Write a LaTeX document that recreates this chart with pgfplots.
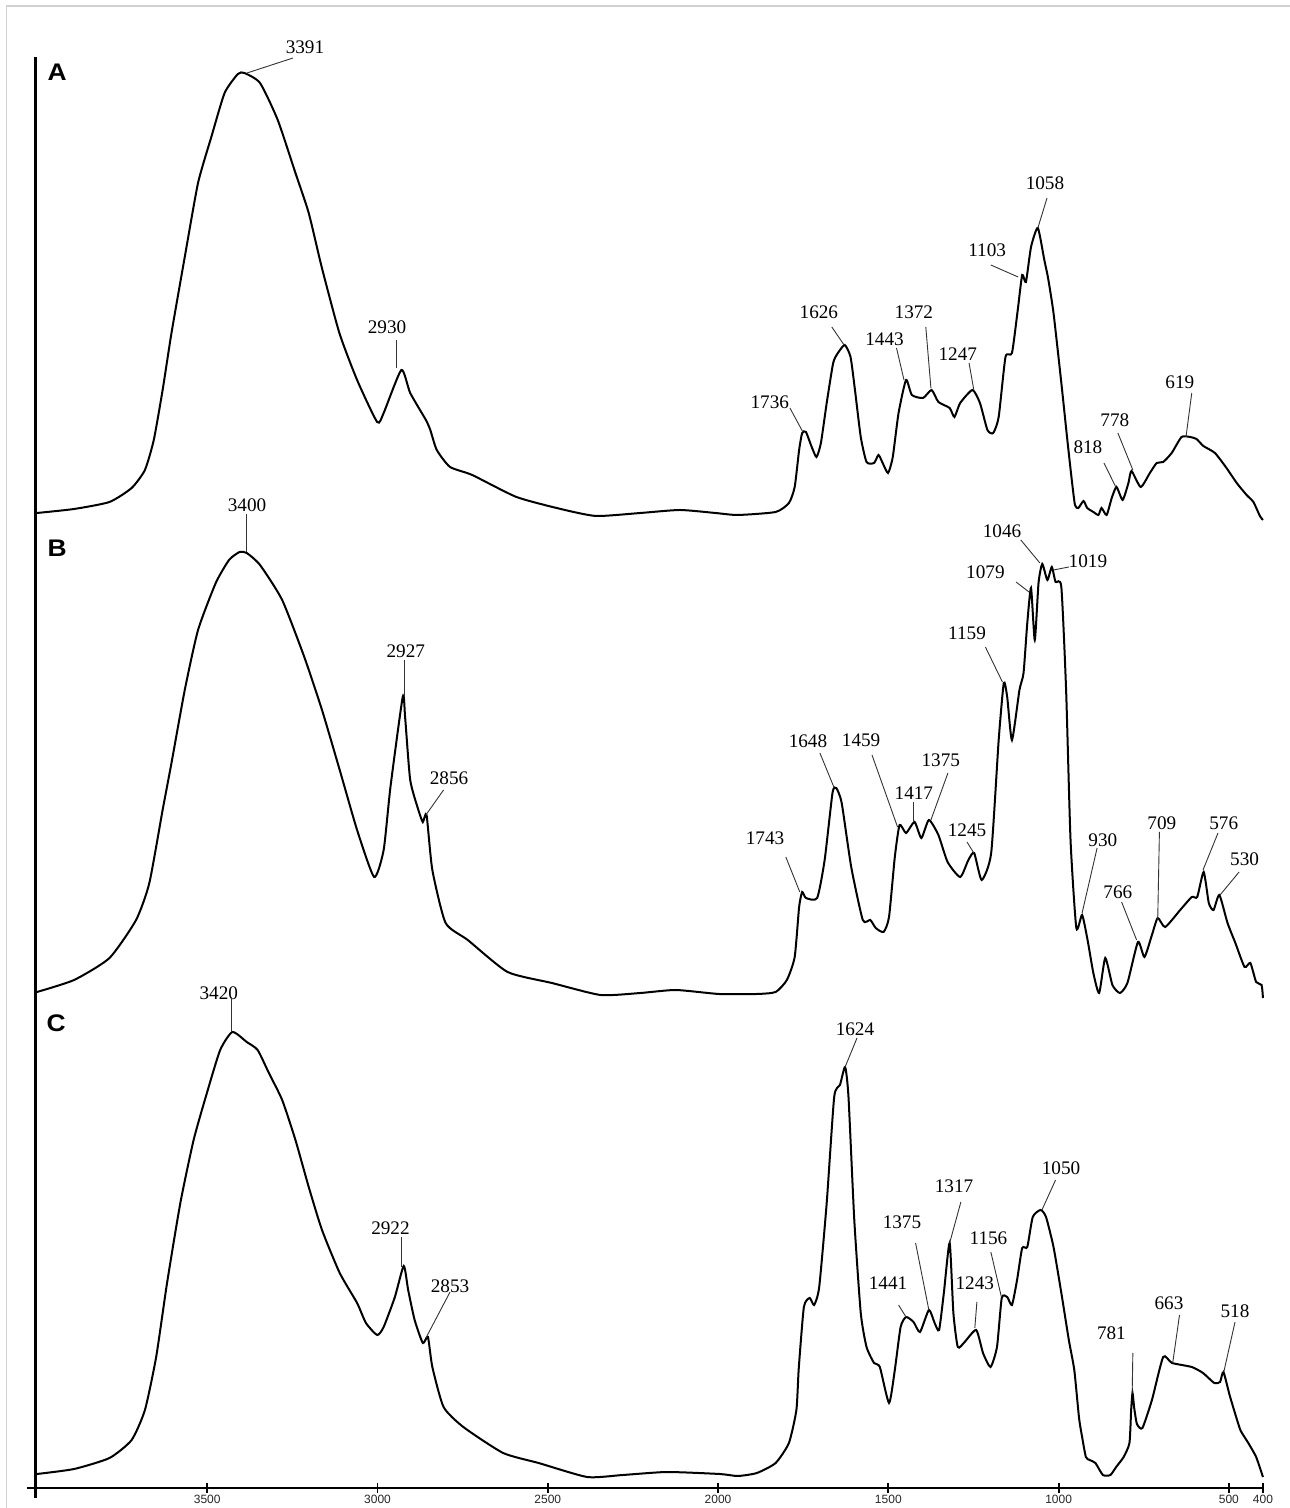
\documentclass[border=0pt]{standalone}
\usepackage{fontspec}
\setmainfont{Liberation Serif}
\setsansfont{Liberation Sans}
\usepackage{pgfplots}
\pgfplotsset{compat=1.18}

\tikzset{
  peak/.style={font=\fontsize{9.6}{10}\selectfont, inner sep=0pt},
  lead/.style={black!80, line width=0.45pt},
  panel/.style={font=\sffamily\bfseries\fontsize{12}{12}\selectfont, inner sep=0pt, xscale=1.1},
}

\pgfplotstableread[row sep=\\]{
wn y\\
4000 975\\ 3891 979\\ 3787 986\\ 3722 1000\\ 3683 1018\\ 3657 1048\\ 3631 1098\\ 3605 1155\\
3566 1231\\ 3527 1305\\ 3488 1351\\ 3449 1395\\ 3410 1414\\ 3391 1415\\ 3345 1405\\ 3293 1368\\
3241 1315\\ 3202 1275\\ 3164 1221\\ 3112 1155\\ 3060 1108\\ 3001 1066\\ 2982 1075\\ 2930 1118\\
2904 1095\\ 2858 1068\\ 2845 1058\\ 2826 1038\\ 2787 1021\\ 2722 1013\\ 2592 991\\ 2462 979\\
2358 972\\ 2228 975\\ 2112 978\\ 2008 975\\ 1942 973\\ 1831 976\\ 1792 985\\ 1775 1001\\
1762 1038\\ 1753 1055\\ 1742 1056\\ 1725 1041\\ 1711 1031\\ 1698 1045\\ 1681 1085\\ 1662 1125\\
1648 1135\\ 1628 1143\\ 1611 1131\\ 1598 1098\\ 1581 1051\\ 1564 1026\\ 1542 1025\\ 1529 1033\\
1518 1026\\ 1501 1015\\ 1487 1031\\ 1470 1075\\ 1448 1108\\ 1431 1093\\ 1398 1090\\ 1373 1098\\
1353 1086\\ 1320 1080\\ 1306 1071\\ 1289 1085\\ 1253 1098\\ 1231 1085\\ 1209 1058\\ 1192 1055\\
1176 1071\\ 1156 1131\\ 1137 1135\\ 1120 1178\\ 1107 1213\\ 1096 1206\\ 1081 1241\\ 1061 1260\\
1042 1228\\ 1031 1210\\ 1015 1175\\ 992 1105\\ 975 1050\\ 962 1010\\ 952 983\\ 942 980\\
927 987\\ 916 980\\ 898 976\\ 883 973\\ 874 980\\ 859 973\\ 844 990\\ 830 1001\\ 812 988\\
795 1005\\ 786 1017\\ 759 1001\\ 732 1015\\ 712 1025\\ 693 1026\\ 668 1035\\ 639 1051\\
614 1051\\ 595 1049\\ 575 1042\\ 541 1035\\ 507 1020\\ 477 1005\\ 448 993\\ 428 986\\
409 972\\ 400 968\\
}\specA

\pgfplotstableread[row sep=\\]{
wn y\\
4000 496\\ 3891 508\\ 3787 530\\ 3709 568\\ 3670 605\\ 3631 678\\ 3605 725\\ 3566 798\\
3527 858\\ 3475 905\\ 3436 928\\ 3405 936\\ 3384 935\\ 3345 923\\ 3280 888\\ 3215 831\\
3163 778\\ 3111 718\\ 3060 658\\ 3010 611\\ 2982 638\\ 2962 701\\ 2926 791\\ 2919 771\\
2904 708\\ 2880 678\\ 2867 666\\ 2856 673\\ 2839 618\\ 2800 565\\ 2735 548\\ 2618 516\\
2488 505\\ 2345 493\\ 2228 495\\ 2124 498\\ 1997 494\\ 1886 494\\ 1831 496\\ 1798 508\\
1775 531\\ 1762 581\\ 1753 596\\ 1742 590\\ 1709 590\\ 1687 628\\ 1664 695\\ 1653 700\\
1637 685\\ 1609 621\\ 1575 568\\ 1553 568\\ 1537 560\\ 1514 556\\ 1498 571\\ 1481 631\\
1467 663\\ 1448 655\\ 1423 666\\ 1403 650\\ 1381 668\\ 1353 653\\ 1326 626\\ 1289 611\\
1265 628\\ 1248 635\\ 1226 608\\ 1198 635\\ 1176 748\\ 1161 805\\ 1151 791\\ 1137 748\\
1115 798\\ 1103 815\\ 1092 865\\ 1081 900\\ 1070 848\\ 1059 905\\ 1048 924\\ 1033 908\\
1020 921\\ 1009 906\\ 992 901\\ 978 798\\ 965 648\\ 948 560\\ 931 573\\ 915 548\\
898 515\\ 881 495\\ 863 530\\ 842 503\\ 820 495\\ 798 505\\ 767 546\\ 748 531\\
726 553\\ 709 570\\ 687 561\\ 643 578\\ 609 591\\ 593 591\\ 574 616\\ 559 585\\
545 578\\ 528 593\\ 504 565\\ 481 545\\ 454 521\\ 437 525\\ 420 506\\ 404 503\\ 400 490\\
}\specB

\pgfplotstableread[row sep=\\]{
wn y\\
4000 14\\ 3891 19\\ 3787 30\\ 3722 48\\ 3683 78\\ 3650 131\\ 3618 205\\ 3579 285\\
3540 348\\ 3501 395\\ 3462 438\\ 3426 456\\ 3384 446\\ 3352 438\\ 3319 415\\ 3280 388\\
3241 348\\ 3202 301\\ 3163 258\\ 3111 215\\ 3060 185\\ 3034 165\\ 3001 153\\ 2982 161\\
2949 191\\ 2923 222\\ 2910 198\\ 2891 168\\ 2867 145\\ 2852 151\\ 2839 121\\ 2806 81\\
2748 61\\ 2631 35\\ 2527 25\\ 2384 11\\ 2280 13\\ 2150 16\\ 1995 14\\ 1942 12\\
1886 15\\ 1831 25\\ 1792 45\\ 1770 78\\ 1763 120\\ 1748 181\\ 1731 190\\ 1718 183\\
1703 201\\ 1681 285\\ 1659 391\\ 1642 403\\ 1627 421\\ 1617 391\\ 1600 268\\ 1581 175\\
1564 141\\ 1542 125\\ 1525 121\\ 1498 85\\ 1481 118\\ 1464 161\\ 1448 171\\ 1426 166\\
1407 156\\ 1381 178\\ 1364 165\\ 1351 158\\ 1337 195\\ 1320 245\\ 1309 175\\ 1296 141\\
1276 146\\ 1242 158\\ 1222 135\\ 1200 121\\ 1181 141\\ 1167 190\\ 1151 191\\ 1137 183\\
1122 208\\ 1107 240\\ 1092 241\\ 1076 271\\ 1053 278\\ 1037 271\\ 1015 241\\ 992 195\\
970 148\\ 954 118\\ 940 70\\ 931 51\\ 920 31\\ 909 28\\ 892 25\\ 870 13\\
848 13\\ 831 21\\ 809 31\\ 792 45\\ 787 78\\ 783 95\\ 778 80\\ 770 64\\
754 60\\ 726 88\\ 693 131\\ 667 125\\ 609 121\\ 576 115\\ 543 105\\ 526 106\\
516 116\\ 498 93\\ 476 68\\ 465 57\\ 443 45\\ 420 31\\ 400 11\\
}\specC

\begin{document}
\begin{tikzpicture}
\begin{axis}[
  scale only axis,
  width=617.75pt, height=715.5pt,
  xmin=400, xmax=4028, ymin=0, ymax=1431,
  x dir=reverse,
  clip=false,
  axis y line=none,
  axis x line=bottom,
  x axis line style={-, line width=1.3pt},
  xtick={400,500,1000,1500,2000,2500,3000,3500},
  ytick=\empty,
  xtick align=center,
  major tick length=5pt,
  every tick/.style={black, line width=0.9pt},
  /pgf/number format/1000 sep={},
  /pgf/number format/assume math mode=true,
  x tick label style={font=\sffamily\fontsize{6}{6}\selectfont, text=black!85, yshift=2.6pt},
]
% frame of the figure
\draw[black!18, line width=0.6pt] (axis cs:4089.6,-20) -- (axis cs:4089.6,1482) -- (axis cs:320.6,1482);
% vertical axis line
\draw[line width=1.5pt] (axis cs:4003,-10) -- (axis cs:4003,1431);

\addplot[black, line width=1pt, mark=none, smooth, tension=0.35] table[x=wn, y=y] {\specA};
\addplot[black, line width=1pt, mark=none, smooth, tension=0.35] table[x=wn, y=y] {\specB};
\addplot[black, line width=1pt, mark=none, smooth, tension=0.35] table[x=wn, y=y] {\specC};

% panel letters
\node[panel] at (axis cs:3941,1416) {A};
\node[panel] at (axis cs:3941,940) {B};
\node[panel] at (axis cs:3944,465) {C};

% ---- A annotations
\node[peak] at (axis cs:3213,1441) {3391};
\draw[lead] (axis cs:3248,1430) -- (axis cs:3383,1415);
\node[peak] at (axis cs:2972,1161) {2930};
\draw[lead] (axis cs:2943,1148) -- (axis cs:2943,1120);
\node[peak] at (axis cs:1848,1086) {1736};
\draw[lead] (axis cs:1789,1080) -- (axis cs:1751,1056);
\node[peak] at (axis cs:1704,1176) {1626};
\draw[lead] (axis cs:1666,1161) -- (axis cs:1630,1143);
\node[peak] at (axis cs:1511,1149) {1443};
\draw[lead] (axis cs:1476,1140) -- (axis cs:1454,1108);
\node[peak] at (axis cs:1425,1176) {1372};
\draw[lead] (axis cs:1390,1161) -- (axis cs:1375,1100);
\node[peak] at (axis cs:1296,1134) {1247};
\draw[lead] (axis cs:1263,1125) -- (axis cs:1249,1098);
\node[peak] at (axis cs:1210,1238) {1103};
\draw[lead] (axis cs:1199,1223) -- (axis cs:1119,1211);
\node[peak] at (axis cs:1040,1305) {1058};
\draw[lead] (axis cs:1034,1290) -- (axis cs:1061,1260);
\node[peak] at (axis cs:914,1041) {818};
\draw[lead] (axis cs:867,1025) -- (axis cs:832,1001);
\node[peak] at (axis cs:835,1068) {778};
\draw[lead] (axis cs:826,1055) -- (axis cs:782,1018);
\node[peak] at (axis cs:644,1106) {619};
\draw[lead] (axis cs:609,1095) -- (axis cs:626,1051);

% ---- B annotations
\node[peak] at (axis cs:3383,983) {3400};
\draw[lead] (axis cs:3386,974) -- (axis cs:3386,936);
\node[peak] at (axis cs:2917,837) {2927};
\draw[lead] (axis cs:2922,828) -- (axis cs:2922,791);
\node[peak] at (axis cs:2790,710) {2856};
\draw[lead] (axis cs:2806,698) -- (axis cs:2858,673);
\node[peak] at (axis cs:1862,650) {1743};
\draw[lead] (axis cs:1801,631) -- (axis cs:1760,596);
\node[peak] at (axis cs:1736,747) {1648};
\draw[lead] (axis cs:1701,735) -- (axis cs:1660,701);
\node[peak] at (axis cs:1580,748) {1459};
\draw[lead] (axis cs:1548,733) -- (axis cs:1473,661);
\node[peak] at (axis cs:1425,695) {1417};
\draw[lead] (axis cs:1425,686) -- (axis cs:1425,666);
\node[peak] at (axis cs:1346,728) {1375};
\draw[lead] (axis cs:1325,715) -- (axis cs:1375,668);
\node[peak] at (axis cs:1269,658) {1245};
\draw[lead] (axis cs:1269,646) -- (axis cs:1249,635);
\node[peak] at (axis cs:1269,855) {1159};
\draw[lead] (axis cs:1215,841) -- (axis cs:1165,806);
\node[peak] at (axis cs:1215,916) {1079};
\draw[lead] (axis cs:1125,906) -- (axis cs:1087,896);
\node[peak] at (axis cs:1166,957) {1046};
\draw[lead] (axis cs:1111,948) -- (axis cs:1055,925);
\node[peak] at (axis cs:914,927) {1019};
\draw[lead] (axis cs:970,921) -- (axis cs:1015,918);
\node[peak] at (axis cs:870,648) {930};
\draw[lead] (axis cs:887,640) -- (axis cs:931,575);
\node[peak] at (axis cs:826,596) {766};
\draw[lead] (axis cs:815,586) -- (axis cs:771,548);
\node[peak] at (axis cs:697,665) {709};
\draw[lead] (axis cs:704,656) -- (axis cs:709,568);
\node[peak] at (axis cs:515,665) {576};
\draw[lead] (axis cs:532,655) -- (axis cs:576,618);
\node[peak] at (axis cs:454,629) {530};
\draw[lead] (axis cs:470,616) -- (axis cs:526,593);

% ---- C annotations
\node[peak] at (axis cs:3466,495) {3420};
\draw[lead] (axis cs:3430,491) -- (axis cs:3430,456);
\node[peak] at (axis cs:2962,260) {2922};
\draw[lead] (axis cs:2930,251) -- (axis cs:2930,221);
\node[peak] at (axis cs:2787,202) {2853};
\draw[lead] (axis cs:2787,196) -- (axis cs:2858,150);
\node[peak] at (axis cs:1598,459) {1624};
\draw[lead] (axis cs:1592,450) -- (axis cs:1627,421);
\node[peak] at (axis cs:1501,205) {1441};
\draw[lead] (axis cs:1470,183) -- (axis cs:1448,171);
\node[peak] at (axis cs:1460,266) {1375};
\draw[lead] (axis cs:1420,245) -- (axis cs:1381,178);
\node[peak] at (axis cs:1307,302) {1317};
\draw[lead] (axis cs:1287,286) -- (axis cs:1320,245);
\node[peak] at (axis cs:1246,205) {1243};
\draw[lead] (axis cs:1240,186) -- (axis cs:1246,160);
\node[peak] at (axis cs:1206,250) {1156};
\draw[lead] (axis cs:1199,236) -- (axis cs:1168,191);
\node[peak] at (axis cs:993,320) {1050};
\draw[lead] (axis cs:1009,308) -- (axis cs:1049,278);
\node[peak] at (axis cs:845,155) {781};
\draw[lead] (axis cs:782,135) -- (axis cs:784,95);
\node[peak] at (axis cs:676,185) {663};
\draw[lead] (axis cs:645,173) -- (axis cs:665,125);
\node[peak] at (axis cs:482,177) {518};
\draw[lead] (axis cs:482,166) -- (axis cs:515,116);

% page extent
\coordinate (bbsw) at (axis cs:4108.6,-20);
\coordinate (bbne) at (axis cs:320.6,1488);
\end{axis}
\pgfresetboundingbox
\path (bbsw) rectangle (bbne);
\end{tikzpicture}
\end{document}
